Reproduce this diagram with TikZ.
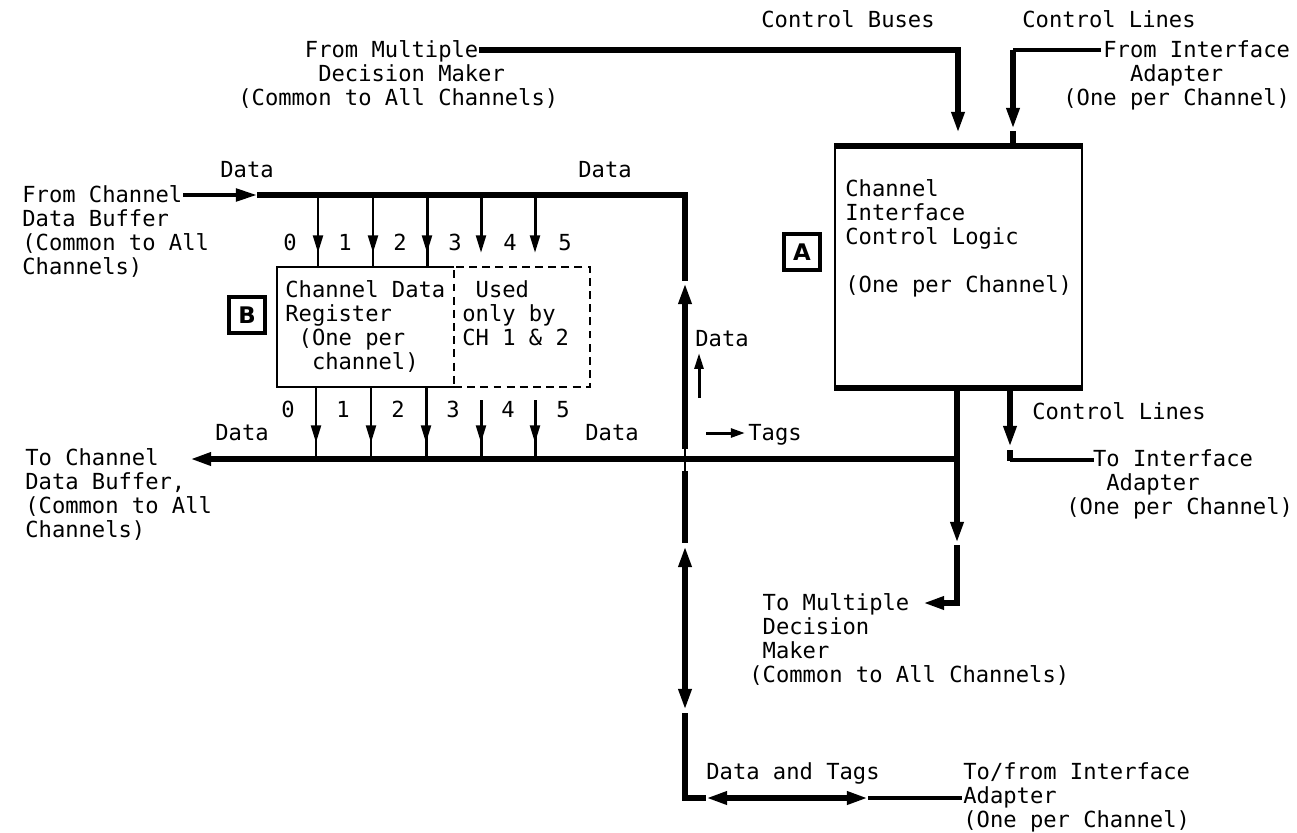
\documentclass[tikz,border=0pt]{standalone}
\usepackage{fontspec}
\newfontfamily\tw{DejaVu Sans Mono}
\newfontfamily\lblfont{DejaVu Sans}
\usetikzlibrary{arrows.meta}
\begin{document}
\begin{tikzpicture}[x=0.02cm,y=-0.02cm,
  txt/.style={anchor=base west, inner sep=0, align=left, font=\tw\fontsize{12.6}{13.66}\selectfont},
  num/.style={anchor=base, inner sep=0, font=\tw\fontsize{12.6}{13.66}\selectfont},
  bus/.style={line width=3.2pt},
  medbus/.style={line width=2.4pt},
  tap/.style={line width=1.7pt},
  thin/.style={line width=1.1pt},
  bigtip/.style={-{Triangle[length=12pt,width=7pt]}},
  smalltip/.style={-{Triangle[length=10pt,width=5.5pt]}},
  lbl/.style={draw, line width=2.5pt, minimum size=0.72cm, inner sep=0, font=\lblfont\bfseries\fontsize{13}{13}\selectfont},
  dashbox/.style={thin, dash pattern=on 4.5pt off 3pt}
]
\useasboundingbox (0,0) rectangle (1297,832);

% ---------- top texts ----------
\node[txt] (cbus) at (761,27) {Control Buses};
\node[txt] (clin) at (1022,27) {Control Lines};
\node[txt] (fmdm) at (238,105) {\phantom{(Comm}From Multiple\\\phantom{(Commo}Decision Maker\\(Common to All Channels)};
\node[txt] (fia) at (1063,105) {\phantom{(On}From Interface\\\phantom{(OneX}Adapter\\(One per Channel)};
\coordinate (fmend) at (479,50);
\coordinate (fiend) at (1101,50);

% ---------- box A ----------
\node[draw, thin, minimum width=4.94cm, minimum height=4.8cm, inner sep=0] (boxA) at (958.5,267) {};
\draw[bus] (boxA.north west) -- (boxA.north east);
\draw[bus] (boxA.south west) -- (boxA.south east);
\node[txt] (atext) at (845,292) {Channel\\Interface\\Control Logic\\\mbox{}\\(One per Channel)};
\node[lbl] (labA) at (802,252) {A};

% control buses in
\coordinate (cbc) at (958,50);
\coordinate (cbtip) at (958,133);
\draw[bus, bigtip] (fmend) -- (cbc) -- (cbtip);
% control lines in
\coordinate (clc) at (1013,50);
\coordinate (cltip) at (1013,129);
\draw[medbus] (fiend) -- (clc);
\draw[bus, bigtip] (clc) -- (cltip);
\draw[bus] (1013,131) -- (1013,147);

% ---------- box B ----------
\node[minimum width=3.54cm, minimum height=2.4cm, inner sep=0] (boxB) at (365.5,327) {};
\draw[thin] (boxB.north east) -- (boxB.north west) -- (boxB.south west) -- (boxB.south east);
\node[draw, dashbox, minimum width=2.72cm, minimum height=2.4cm, inner sep=0] (boxBd) at (522,327) {};
\node[txt] (btext) at (285,369) {Channel Data\\Register\\\phantom{X}(One per\\\phantom{XX}channel)};
\node[txt] (bdtext) at (462,345) {\phantom{X}Used\\only by\\CH 1 \& 2};
\node[lbl] (labB) at (247,315) {B};

% ---------- top data bus ----------
\node[txt] (fromch) at (22,274) {From Channel\\Data Buffer\\(Common to All\\Channels)};
\coordinate (fcend) at (183,195);
\coordinate (fctip) at (257,195);
\draw[medbus, bigtip] (fcend) -- (fctip);
\coordinate (tcorner) at (685,195);
\coordinate (tdown) at (685,281);
\draw[bus] (fctip) -- (tcorner) -- (tdown);
\node[txt] (dtl) at (220,177) {Data};
\node[txt] (dtr) at (578,177) {Data};

\foreach \i/\x in {0/318,1/373,2/427}{
  \coordinate (tt\i) at (\x,195);
  \draw[tap] (tt\i) -- (\x,267);
  \draw[tap, smalltip] (tt\i) -- (\x,253);
}
\foreach \i/\x in {3/481,4/535}{
  \coordinate (tt\i) at (\x,195);
  \draw[tap, smalltip] (tt\i) -- (\x,253);
}
\foreach \i/\x in {0/290,1/345,2/400,3/455,4/510,5/565}{
  \node[num] (tn\i) at (\x,250) {\i};
}

% ---------- bottom data bus ----------
\foreach \i/\x in {0/316,1/371,2/426}{
  \coordinate (bt\i) at (\x,387);
  \draw[tap] (bt\i) -- (\x,459);
  \draw[tap, smalltip] (bt\i) -- (\x,443);
}
\foreach \i/\x in {3/481,4/535}{
  \coordinate (bt\i) at (\x,400);
  \draw[tap] (bt\i) -- (\x,459);
  \draw[tap, smalltip] (bt\i) -- (\x,443);
}
\foreach \i/\x in {0/288,1/343,2/398,3/453,4/508,5/563}{
  \node[num] (bn\i) at (\x,417) {\i};
}
\node[txt] (dbl) at (215,440) {Data};
\node[txt] (dbr) at (585,440) {Data};
\node[txt] (toch) at (25,537) {To Channel\\Data Buffer,\\(Common to All\\Channels)};

\coordinate (cross) at (685,459);
\coordinate (rjoin) at (957,459);
\coordinate (lefttip) at (190,459);
\draw[bus, bigtip] (rjoin) -- (lefttip);
\fill (cross) circle[radius=3.5];

% ---------- centre vertical ----------
\draw[bus, bigtip] (685,449) -- (685,283);
\draw[thin] (685,449) -- (685,471);
\draw[bus] (685,471) -- (685,543);
\draw[bus, {Triangle[length=12pt,width=7pt]}-{Triangle[length=12pt,width=7pt]}] (685,546) -- (685,710);
\coordinate (bcorner) at (685,798);
\coordinate (dtl1) at (706,798);
\coordinate (dtr1) at (868,798);
\coordinate (dtend) at (962,798);
\draw[bus] (685,713) -- (bcorner) -- (dtl1);
\draw[bus, {Triangle[length=12pt,width=7pt]}-{Triangle[length=12pt,width=7pt]}] (dtl1) -- (dtr1);
\draw[medbus] (dtr1) -- (dtend);
\node[txt] (dat) at (706,779) {Data and Tags};
\node[txt] (tfia) at (963,827) {To/from Interface\\Adapter\\(One per Channel)};

\node[txt] (dup) at (695,346) {Data};
\draw[tap, -{Triangle[length=9pt,width=5pt]}] (699,398) -- (699,353);
\draw[tap, -{Triangle[length=8pt,width=5pt]}] (706,433) -- (745,433);
\node[txt] (tags) at (748,440) {Tags};

% ---------- right vertical to MDM ----------
\draw[bus, bigtip] (957,387) -- (957,543);
\coordinate (mdmc) at (957,603);
\coordinate (mdmtip) at (923,603);
\draw[bus, bigtip] (957,545) -- (mdmc) -- (mdmtip);
\node[txt] (tmdm) at (749,682) {\phantom{X}To Multiple\\\phantom{X}Decision\\\phantom{X}Maker\\(Common to All Channels)};

% ---------- control lines out ----------
\draw[bus, bigtip] (1010,387) -- (1010,447);
\draw[bus] (1010,450) -- (1010,461);
\coordinate (tiend) at (1094,460);
\draw[medbus] (1010,460) -- (tiend);
\node[txt] (clout) at (1032,419) {Control Lines};
\node[txt] (tia) at (1066,514) {\phantom{XX}To Interface\\\phantom{XXX}Adapter\\(One per Channel)};
\end{tikzpicture}
\end{document}
